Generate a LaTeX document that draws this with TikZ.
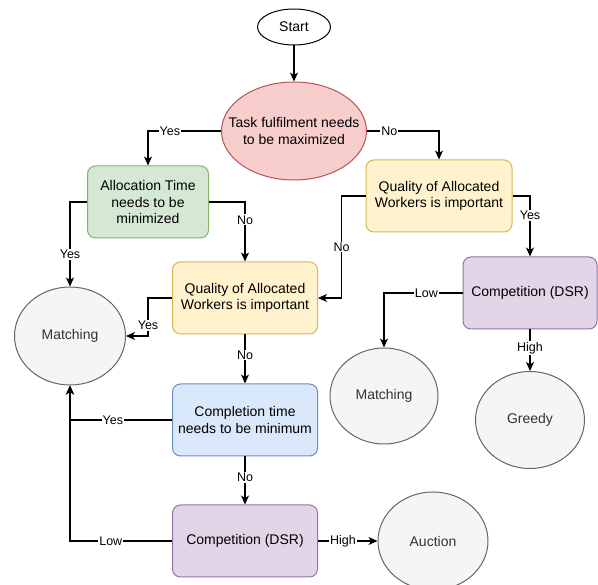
\documentclass[tikz,border=0pt]{standalone}
\usepackage{fontspec}
\setmainfont{Liberation Sans}
\usetikzlibrary{shapes.geometric,arrows.meta}
\definecolor{redfill}{HTML}{F8CECC}\definecolor{redline}{HTML}{B85450}
\definecolor{greenfill}{HTML}{D5E8D4}\definecolor{greenline}{HTML}{82B366}
\definecolor{yellowfill}{HTML}{FFF2CC}\definecolor{yellowline}{HTML}{D6B656}
\definecolor{bluefill}{HTML}{DAE8FC}\definecolor{blueline}{HTML}{6C8EBF}
\definecolor{purplefill}{HTML}{E1D5E7}\definecolor{purpleline}{HTML}{9673A6}
\definecolor{greyfill}{HTML}{F5F5F5}\definecolor{greyline}{HTML}{666666}
\definecolor{greytext}{HTML}{333333}
\begin{document}
\begin{tikzpicture}[x=1pt,y=-1pt,
    every node/.style={font=\fontsize{14}{16.5}\selectfont, align=center},
    box/.style={draw, rounded corners=8pt, line width=1pt, minimum width=145pt, minimum height=72pt, inner sep=2pt},
    oval/.style={ellipse, draw, line width=1pt, inner sep=0pt},
    result/.style={oval, draw=greyline, fill=greyfill, text=greytext, minimum width=110pt, minimum height=97pt},
    lbl/.style={fill=white, inner sep=1pt, font=\fontsize{12.5}{13}\selectfont},
    arr/.style={-{Stealth[length=9pt,width=8pt,inset=2.5pt]}, line width=1.1pt}]
  \useasboundingbox (0,0) rectangle (598,585);
  % decisions
  \node[oval, fill=white, minimum width=73pt, minimum height=36pt] (start) at (294,27) {Start};
  \node[oval, fill=redfill, draw=redline, minimum width=145pt, minimum height=98pt,
        label=center:{Task fulfilment needs\\to be maximized}] (task) at (294,131) {};
  \node[box, fill=greenfill, draw=greenline, minimum width=121pt] (alloc) at (148,202) {Allocation Time\\needs to be\\minimized};
  \node[box, fill=yellowfill, draw=yellowline, minimum width=146pt] (qual1) at (439,196) {Quality of Allocated\\Workers is important};
  \node[box, fill=yellowfill, draw=yellowline] (qual2) at (245,298) {Quality of Allocated\\Workers is important};
  \node[box, fill=bluefill, draw=blueline] (comp) at (245,420) {Completion time\\needs to be minimum};
  \node[box, fill=purplefill, draw=purpleline] (dsr1) at (245,541) {Competition (DSR)};
  \node[box, fill=purplefill, draw=purpleline, minimum width=134pt] (dsr2) at (530,293) {Competition (DSR)};
  % outcomes
  \node[result, minimum width=111pt, minimum height=98pt] (match1) at (70,336) {Matching};
  \node[result, minimum width=108pt, minimum height=96pt] (match2) at (384,396) {Matching};
  \node[result, minimum width=109pt] (greedy) at (530,420) {Greedy};
  \node[result, minimum height=98pt] (auction) at (433,541) {Auction};
  % connectors
  \draw[arr] (start.south) -- (task.north);
  \draw[arr] (task.west) -| node[lbl, pos=0.35] {Yes} (alloc.north);
  \draw[arr] (task.east) -| node[lbl, pos=0.155] {No} (qual1.north);
  \draw[arr] (alloc.west) -| node[lbl, pos=0.81] {Yes} (match1.north);
  \draw[arr] (alloc.east) -| node[lbl, pos=0.65] {No} (qual2.north);
  \draw[arr] (qual1.west) -- ++(-24,0) |- node[lbl, pos=0.25] {No} (qual2.east);
  \draw[arr] (qual1.east) -| node[lbl, pos=0.66] {Yes} (dsr2.north);
  \draw[arr] (qual2.west) -- ++(-24,0) |- node[lbl, pos=0.36] {Yes} (match1.east);
  \draw[arr] (qual2.south) -- node[lbl, pos=0.42] {No} (comp.north);
  \draw[arr] (comp.west) -| node[lbl, pos=0.29] {Yes} (match1.south);
  \draw[arr] (comp.south) -- node[lbl, pos=0.44] {No} (dsr1.north);
  \draw[arr] (dsr1.west) -| node[lbl, pos=0.3] {Low} (match1.south);
  \draw[arr] (dsr1.east) -- node[lbl, pos=0.42] {High} (auction.west);
  \draw[arr] (dsr2.west) -| node[lbl, pos=0.23] {Low} (match2.north);
  \draw[arr] (dsr2.south) -- node[lbl, pos=0.45] {High} (greedy.north);
\end{tikzpicture}
\end{document}
